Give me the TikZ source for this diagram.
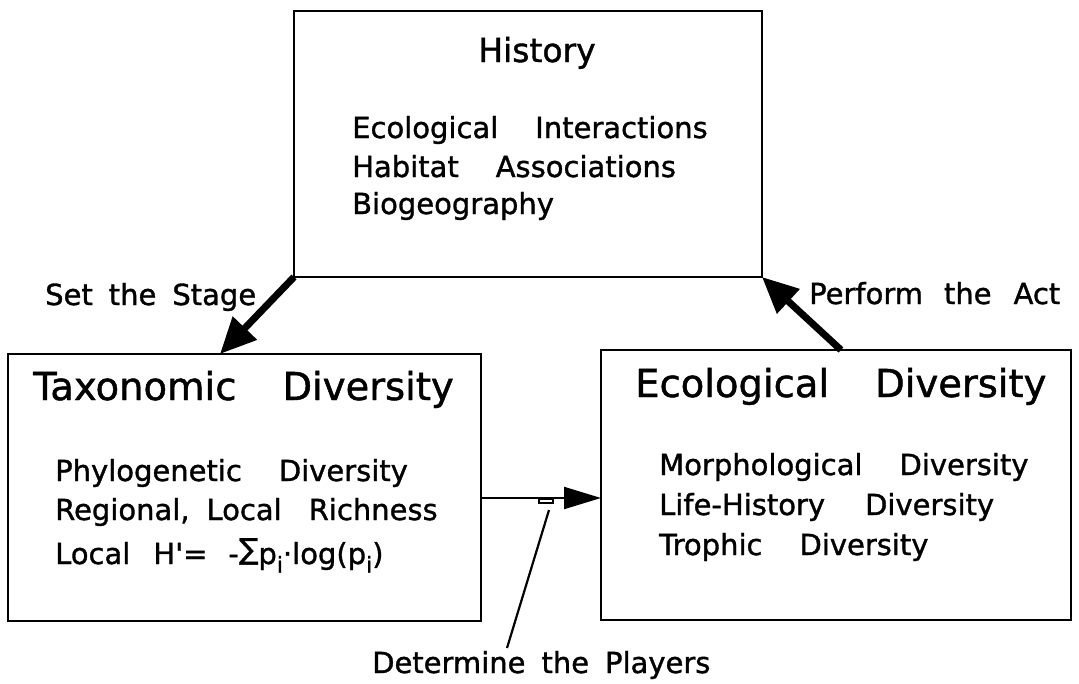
\documentclass[tikz,border=0pt]{standalone}
\usepackage{fontspec}
\newfontfamily\geneva[FakeBold=1.2]{DejaVu Sans}
\usetikzlibrary{arrows.meta}
\newcommand\lowi{\raisebox{-0.3em}{\fontsize{22}{22}\selectfont i}}
\newcommand\upsum{\raisebox{0.17em}{∑}}
\tikzset{
  panel/.style={draw, line width=2.6pt, inner sep=0pt, outer sep=0pt},
  heading/.style={anchor=base west, inner sep=0pt, font={\geneva\fontsize{38.5}{46}\selectfont\spaceskip=46pt\relax}},
  entry/.style={anchor=base west, inner sep=0pt, font={\geneva\fontsize{29}{38}\selectfont\spaceskip=37pt\relax}},
  cue/.style={anchor=base west, inner sep=0pt, font={\geneva\fontsize{29}{35}\selectfont\spaceskip=16pt\relax}},
  fat/.style={line width=7pt, -{Triangle[length=36pt,width=32pt]}},
  slim/.style={line width=2.2pt, -{Triangle[length=37pt,width=22pt]}},
}
\begin{document}
\begin{tikzpicture}[x=1pt, y=-1pt]
\useasboundingbox (0,0) rectangle (1079,683);
\node[panel, minimum width=468pt, minimum height=266pt] (history) at (528,144) {};
\node[panel, minimum width=473pt, minimum height=267pt] (taxo) at (244.5,487.5) {};
\node[panel, minimum width=470pt, minimum height=270pt] (eco) at (836,485) {};

\node[heading, anchor=base, font={\geneva\fontsize{33}{40}\selectfont}] (histhead) at (537,62) {History};
\node[entry] (interact) at (352,138) {Ecological Interactions};
\node[entry] (habitat) at (352,177) {Habitat Associations};
\node[entry] (biogeo) at (352,214) {Biogeography};

\node[heading] (taxohead) at (33,400) {Taxonomic Diversity};
\node[entry] (phylo) at (55,481) {Phylogenetic Diversity};
\node[entry] (richness) at (55,520) {Regional,\hspace{17pt}Local\hspace{27pt}Richness};
\node[entry] (shannon) at (55,564) {Local\hspace{23pt}H'=\hspace{21pt}-\upsum p\lowi·log(p\lowi)};

\node[heading] (ecohead) at (635,397) {Ecological Diversity};
\node[entry] (morpho) at (659,475) {Morphological Diversity};
\node[entry] (lifehist) at (659,515) {Life-History\hspace{40pt}Diversity};
\node[entry] (trophic) at (659,555) {Trophic Diversity};

%%%%%%%%%%%%%%%%%%%%%%%%%%%%%%%%%%%%%%%%

\node[cue] (stage) at (45,305) {Set the Stage};
\node[cue] (act) at (809,304) {Perform\hspace{21pt}the\hspace{22pt}Act};
\node[cue] (players) at (372,673) {Determine the Players};

\draw[fat] (history.south west) -- ([xshift=-24.5pt]taxo.north);
\draw[fat] ([xshift=5pt]eco.north) -- (history.south east);
\draw[slim] ([yshift=-10.5pt]taxo.east) -- ([yshift=-10.5pt]taxo.east -| eco.west);

\coordinate (leadtop) at (549,510);
\coordinate (leadfoot) at (507,648);
\draw[line width=2.2pt] (leadfoot) -- (leadtop);
\draw[line width=1.2pt] (539,499.5) rectangle (553,503);
\end{tikzpicture}
\end{document}
